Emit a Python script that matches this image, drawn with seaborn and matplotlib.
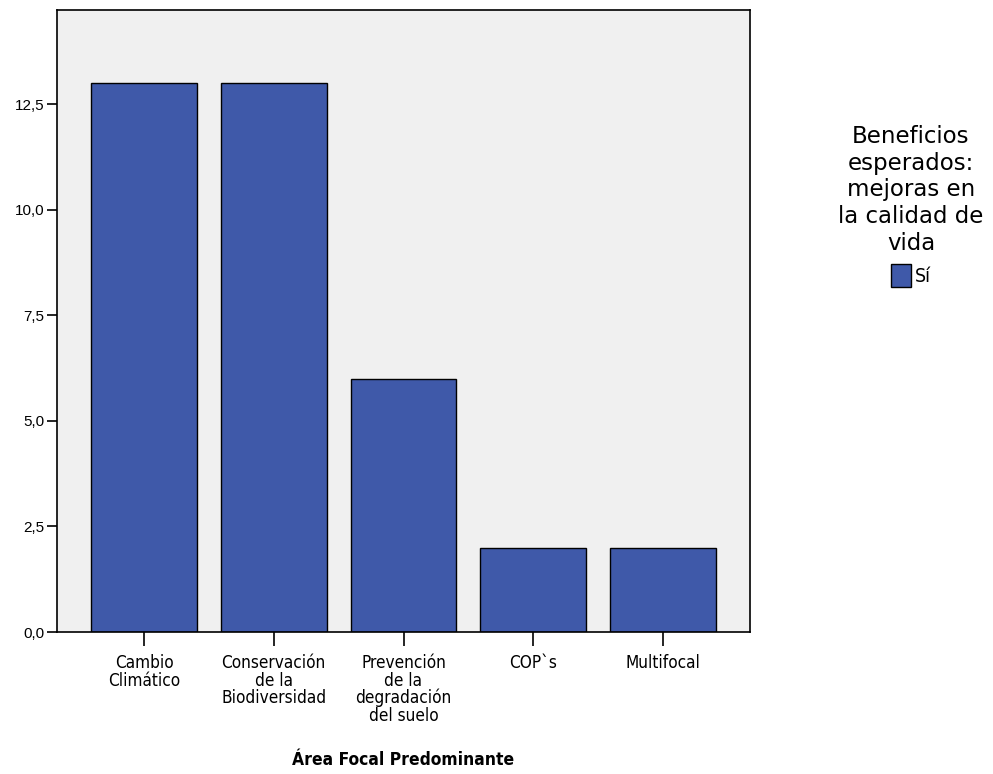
import pandas as pd
import numpy as np
import matplotlib.pyplot as plt
import seaborn as sns
from matplotlib.patches import Patch

# --- datos ---
categorias = ["Cambio\nClimático", "Conservación\nde la\nBiodiversidad",
              "Prevención\nde la\ndegradación\ndel suelo", "COP`s", "Multifocal"]
recuentos = [13, 13, 6, 2, 2]
ticks_y = [0, 2.5, 5, 7.5, 10, 12.5]
etiquetas_y = ["0,0", "2,5", "5,0", "7,5", "10,0", "12,5"]

df = pd.DataFrame({"area": categorias, "n": recuentos})

sns.set_style("ticks")
plt.rcParams['font.family'] = ['DejaVu Sans']
plt.rcParams['text.color'] = 'black'
plt.rcParams['axes.labelcolor'] = 'black'
plt.rcParams['xtick.color'] = 'black'
plt.rcParams['ytick.color'] = 'black'

fig = plt.figure(figsize=(9.93, 7.74), dpi=100)
ax = fig.add_axes([57 / 993, 1 - 632 / 774, (750 - 57) / 993, (632 - 10) / 774])
ax.set_facecolor("#F0F0F0")

sns.barplot(data=df, x="area", y="n", color="#3F59A9", width=0.815,
            edgecolor="black", linewidth=1.0, saturation=1, ax=ax)

ax.set_xlim(-0.67, 4.67)
ax.set_ylim(0, 14.73)
ax.set_yticks(ticks_y)
ax.set_yticklabels(etiquetas_y, fontsize=11, family=['Liberation Sans'])
ax.tick_params(axis='y', length=7, width=1.2, pad=2)
ax.tick_params(axis='x', length=10, width=1.2, pad=6)
for lab in ax.get_xticklabels():
    lab.set_fontstretch('condensed')
    lab.set_fontsize(12.3)
    lab.set_linespacing(0.95)
for s in ax.spines.values():
    s.set_linewidth(1.2)
    s.set_color("black")

ax.set_ylabel("")
ax.set_xlabel("Área Focal Predominante", fontsize=12.5, fontweight="bold",
              fontstretch="condensed", labelpad=19)

handles = [Patch(facecolor="#3F59A9", edgecolor="black", label="Sí")]
leg = fig.legend(handles=handles,
                 title="Beneficios\nesperados:\nmejoras en\nla calidad de\nvida",
                 loc="center", bbox_to_anchor=(911 / 993, 1 - 206 / 774),
                 frameon=False,
                 prop={'family': 'DejaVu Sans', 'stretch': 'condensed', 'size': 14},
                 title_fontsize=16.5,
                 handlelength=1.05, handleheight=1.4, handletextpad=0.2)
leg.get_title().set_multialignment("center")
leg.get_title().set_linespacing(1.2)

fig.savefig("out.png", dpi=100)
